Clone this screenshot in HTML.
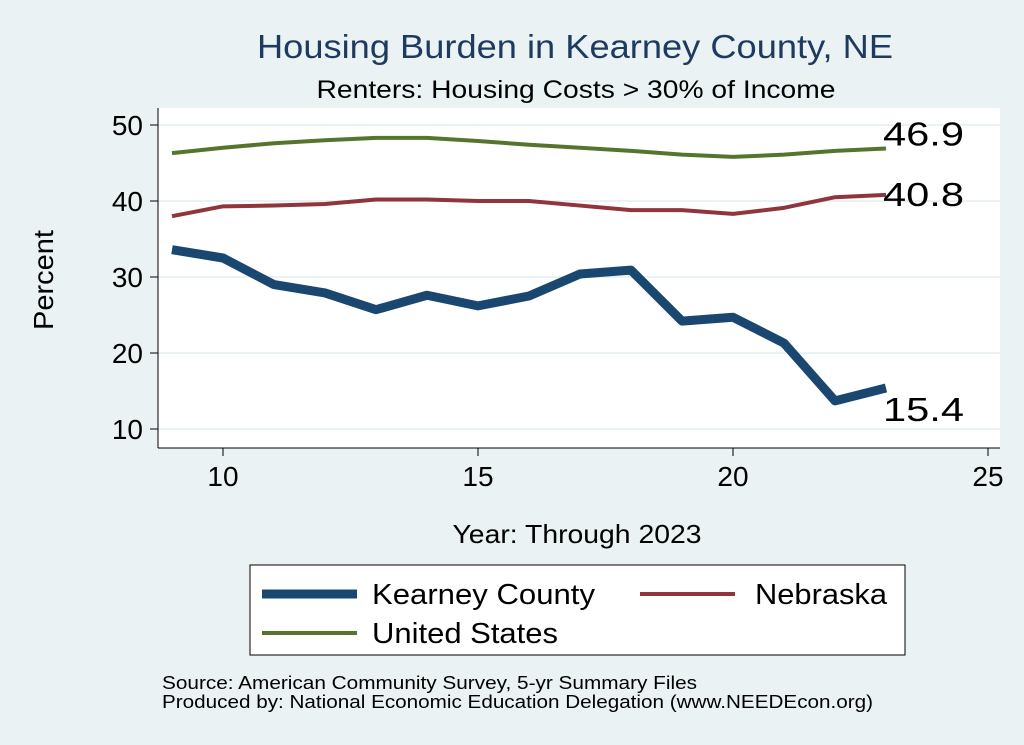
<!DOCTYPE html>
<html><head><meta charset="utf-8"><style>
html,body{margin:0;padding:0;background:#eaf2f3;}
svg{display:block;font-family:"Liberation Sans",Arial,sans-serif;}
</style></head><body>
<svg id="chart" width="1024" height="745" viewBox="0 0 1024 745">
<rect x="0" y="0" width="1024" height="745" fill="#eaf2f3"/>
<text x="575" y="58" text-anchor="middle" font-size="33" fill="#1f3a5f" textLength="636" lengthAdjust="spacingAndGlyphs">Housing Burden in Kearney County, NE</text>
<text x="576" y="98" text-anchor="middle" font-size="25" fill="#000" textLength="519" lengthAdjust="spacingAndGlyphs">Renters: Housing Costs &gt; 30% of Income</text>
<rect x="158" y="108" width="842" height="340" fill="#fff"/>
<g id="grid"></g>
<g id="axes"></g>
<g id="series"></g>
<text transform="translate(53,280) rotate(-90)" text-anchor="middle" font-size="28" textLength="100" lengthAdjust="spacingAndGlyphs">Percent</text>
<text x="577" y="543" text-anchor="middle" font-size="26" textLength="249" lengthAdjust="spacingAndGlyphs">Year: Through 2023</text>
<g>
<rect x="250" y="565" width="655" height="90" fill="#fff" stroke="#000" stroke-width="1"/>
<line x1="262" y1="594" x2="357" y2="594" stroke="#1a476f" stroke-width="9"/>
<text x="372" y="604" font-size="29" textLength="223" lengthAdjust="spacingAndGlyphs">Kearney County</text>
<line x1="640" y1="594" x2="735" y2="594" stroke="#90353b" stroke-width="4"/>
<text x="755" y="604" font-size="29" textLength="132" lengthAdjust="spacingAndGlyphs">Nebraska</text>
<line x1="262" y1="633" x2="357" y2="633" stroke="#55752f" stroke-width="4"/>
<text x="372" y="643" font-size="29" textLength="186" lengthAdjust="spacingAndGlyphs">United States</text>
</g>
<text x="162" y="689" font-size="18" textLength="535" lengthAdjust="spacingAndGlyphs">Source: American Community Survey, 5-yr Summary Files</text>
<text x="162" y="708" font-size="18" textLength="711" lengthAdjust="spacingAndGlyphs">Produced by: National Economic Education Delegation (www.NEEDEcon.org)</text>
</svg>
<script>
const years = [9,10,11,12,13,14,15,16,17,18,19,20,21,22,23];
const kearney = [33.6,32.5,29.0,27.9,25.7,27.6,26.2,27.5,30.4,30.9,24.2,24.7,21.3,13.7,15.4];
const nebraska = [38.0,39.3,39.4,39.6,40.2,40.2,40.0,40.0,39.4,38.8,38.8,38.3,39.1,40.5,40.8];
const unitedStates = [46.3,47.0,47.6,48.0,48.3,48.3,47.9,47.4,47.0,46.6,46.1,45.8,46.1,46.6,46.9];
const xTicks = [10,15,20,25];
const yTicks = [10,20,30,40,50];

const NS = "http://www.w3.org/2000/svg";
function xs(v){ return 223 + (v-10)*51; }
function ys(v){ return 429 - (v-10)*7.6; }
function mk(tag, attrs, parent){ const e=document.createElementNS(NS,tag); for(const k in attrs) e.setAttribute(k,attrs[k]); parent.appendChild(e); return e; }
const grid=document.getElementById('grid'), axes=document.getElementById('axes'), ser=document.getElementById('series');
mk('line',{x1:158,y1:108,x2:158,y2:448,stroke:'#000','stroke-width':1},axes);
mk('line',{x1:158,y1:448,x2:1000,y2:448,stroke:'#000','stroke-width':1},axes);
yTicks.forEach(t=>{
  const g=mk('line',{x1:158,y1:ys(t),x2:1000,y2:ys(t),stroke:'#eaf2f3','stroke-width':2},grid);
  
  
  mk('line',{x1:150,y1:ys(t),x2:158,y2:ys(t),stroke:'#000'},axes);
  const tx=mk('text',{x:143,y:ys(t)+10,'text-anchor':'end','font-size':28},axes);
  tx.textContent=t;
  
  
});
xTicks.forEach(t=>{
  mk('line',{x1:xs(t),y1:448,x2:xs(t),y2:456,stroke:'#000'},axes);
  const tx=mk('text',{x:xs(t),y:486,'text-anchor':'middle','font-size':28},axes);
  tx.textContent=t;
  
  
});
function line(vals,color,w,name){
  const p=mk('polyline',{points:years.map((y,i)=>xs(y)+','+ys(vals[i])).join(' '),fill:'none',stroke:color,'stroke-width':w,'stroke-linejoin':'round'},ser);
  
  
}
line(unitedStates,'#55752f',4,'line-united-states');
line(nebraska,'#90353b',4,'line-nebraska');
line(kearney,'#1a476f',9,'line-kearney-county');
const last=years.length-1;
[[unitedStates,-3,'label-united-states'],[nebraska,11,'label-nebraska'],[kearney,33,'label-kearney-county']].forEach(([v,dy,n])=>{
  const tx=mk('text',{x:xs(years[last])-3,y:ys(v[last])+dy,'font-size':33,textLength:81,lengthAdjust:'spacingAndGlyphs'},ser);
  tx.textContent=v[last].toFixed(1);
  
  
});
</script>
</body></html>
